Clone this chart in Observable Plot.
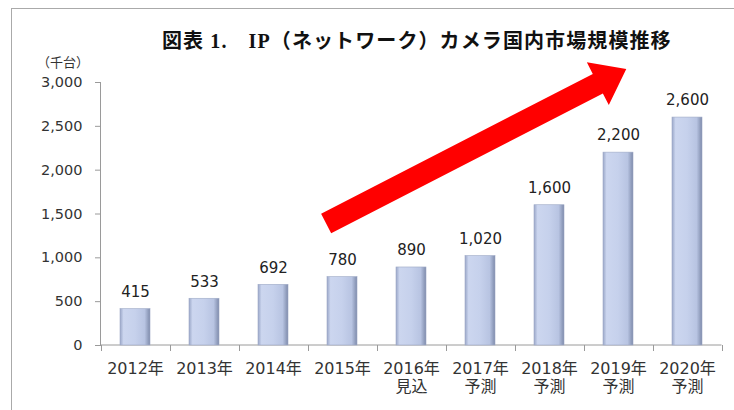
<!DOCTYPE html>
<html><head><meta charset="utf-8">
<script src="https://cdn.jsdelivr.net/npm/d3@7"></script>
<script src="https://cdn.jsdelivr.net/npm/@observablehq/plot@0.6"></script>
<style>
body{margin:0;background:#fff;}
#wrap{position:relative;width:734px;height:410px;overflow:hidden;font-family:"DejaVu Sans","Noto Sans CJK JP",sans-serif;}
#frame{position:absolute;left:11px;top:8px;width:800px;height:500px;border-left:1.5px solid #aaa;border-top:1.5px solid #aaa;}
#title{position:absolute;left:162px;top:25px;font-family:"Liberation Serif","Noto Sans CJK JP",serif;font-weight:bold;font-size:20px;letter-spacing:1.1px;color:#111;white-space:nowrap;}
#unit{position:absolute;left:37px;top:52px;font-size:13px;color:#333;font-family:"Noto Sans CJK JP","DejaVu Sans",sans-serif;}
#chart{position:absolute;left:0;top:0;}
</style></head>
<body>
<div id="wrap">
<div id="frame"></div>
<div id="chart"></div>
<div id="title">図表 1.　IP（ネットワーク）カメラ国内市場規模推移</div>
<div id="unit">（千台）</div>
</div>
<script>
const years = ["2012年","2013年","2014年","2015年","2016年","2017年","2018年","2019年","2020年"];
const notes = ["","","","","見込","予測","予測","予測","予測"];
const values = [415, 533, 692, 780, 890, 1020, 1600, 2200, 2600];
const yTicks = [0, 500, 1000, 1500, 2000, 2500, 3000];
// trend arrow annotation: category, offset within step, value
const arrowYears = ["2015年", "2019年"];
const arrowOffsets = [-0.23, 0.12];
const arrowValues = [1386, 3148];

const labels = years.map((y, i) => notes[i] ? y + "\n" + notes[i] : y);
const data = labels.map((l, i) => ({label: l, value: values[i]}));

function frameMark(index, scales, values_, dimensions) {
  const {x, y} = scales;
  const step = x.step();
  const x0 = x(labels[0]) - (step - x.bandwidth()) / 2;
  const y0 = y(0);
  const g = d3.create("svg:g");
  g.append("line").attr("x1", x0).attr("x2", x0).attr("y1", y(yTicks[yTicks.length-1])).attr("y2", y0)
    .attr("stroke", "#9a9a9a").attr("stroke-width", 1);
  g.append("line").attr("x1", x0).attr("x2", x0 + step * labels.length).attr("y1", y0).attr("y2", y0)
    .attr("stroke", "#9a9a9a").attr("stroke-width", 1);
  for (let k = 0; k <= labels.length; k++) {
    const xx = Math.round(x0 + k * step) + 0.5;
    g.append("line").attr("x1", xx).attr("x2", xx).attr("y1", y0).attr("y2", y0 + 6)
      .attr("stroke", "#9a9a9a").attr("stroke-width", 1);
  }
  return g.node();
}

function arrowMark(index, scales) {
  const {x, y} = scales;
  const step = x.step();
  const p = arrowYears.map((c, i) => [x(labels[years.indexOf(c)]) + x.bandwidth() / 2 + arrowOffsets[i] * step, y(arrowValues[i])]);
  const [sx, sy] = p[0], [tx, ty] = p[1];
  const dx = tx - sx, dy = ty - sy, len = Math.hypot(dx, dy);
  const ux = dx / len, uy = dy / len, nx = -uy, ny = ux;
  const hw = 11, headW = 24, headL = 32;
  const bx = tx - ux * headL, by = ty - uy * headL;
  const pts = [
    [sx + nx * hw, sy + ny * hw],
    [bx + nx * hw, by + ny * hw],
    [bx + nx * headW, by + ny * headW],
    [tx, ty],
    [bx - nx * headW, by - ny * headW],
    [bx - nx * hw, by - ny * hw],
    [sx - nx * hw, sy - ny * hw]
  ];
  const g = d3.create("svg:g");
  g.append("polygon").attr("points", pts.map(q => q.join(",")).join(" ")).attr("fill", "#ff0000");
  return g.node();
}

const chart = Plot.plot({
  width: 734,
  height: 410,
  marginLeft: 101,
  marginRight: 12,
  marginTop: 82,
  marginBottom: 65,
  style: {fontFamily: "'DejaVu Sans','Noto Sans CJK JP',sans-serif", color: "#333", background: "transparent"},
  x: {domain: labels, paddingInner: 0.56, paddingOuter: 0.28, label: null},
  y: {domain: [0, 3000], label: null},
  marks: [
    Plot.axisY({ticks: yTicks, tickFormat: d3.format(","), tickSize: 6, tickPadding: 13, stroke: "#9a9a9a", fontSize: 14.5, label: null}),
    Plot.axisX({tickSize: 0, tickPadding: 16, fontSize: 16, lineHeight: 1.1, label: null}),
    frameMark,
    Plot.barY(data, {x: "label", y: "value", fill: "url(#barGrad)", stroke: "#9ea9c6", strokeWidth: 0.6}),
    Plot.text(data, {x: "label", y: "value", text: d => d3.format(",")(d.value), dy: -17, fontSize: 15, fill: "#222"}),
    arrowMark
  ]
});

const svg = d3.select(chart);
const defs = svg.insert("defs", ":first-child");
const grad = defs.append("linearGradient").attr("id", "barGrad").attr("x1", "0").attr("x2", "1").attr("y1", "0").attr("y2", "0");
[["0%", "#9aa7c8"], ["12%", "#ccd6ef"], ["50%", "#c6d1ec"], ["82%", "#b8c4e2"], ["100%", "#7e8bab"]]
  .forEach(([o, c]) => grad.append("stop").attr("offset", o).attr("stop-color", c));
document.getElementById("chart").appendChild(chart);
</script>
</body></html>
